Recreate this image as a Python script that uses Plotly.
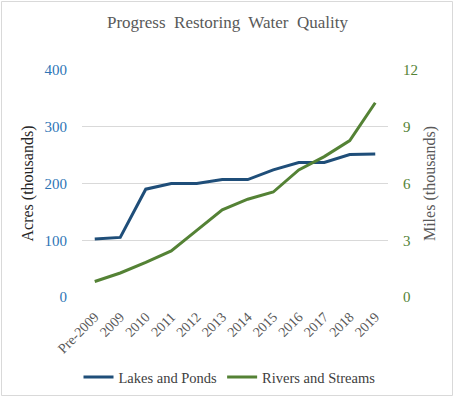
import plotly.graph_objects as go

categories = ["Pre-2009", "2009", "2010", "2011", "2012", "2013", "2014", "2015", "2016", "2017", "2018", "2019"]
lakes_acres = [102, 105, 190, 200, 200, 207, 207, 224, 237, 237, 251, 252]
rivers_miles = [0.82, 1.27, 1.83, 2.44, 3.52, 4.61, 5.17, 5.55, 6.72, 7.42, 8.27, 10.27]
left_ticks = [0, 100, 200, 300, 400]
right_ticks = [0, 3, 6, 9, 12]

W, H = 455, 398
ML, MR, MT, MB = 82, 67, 70, 101
FONT = "Liberation Serif"

fig = go.Figure()
fig.add_trace(go.Scatter(x=categories, y=lakes_acres, name="Lakes and Ponds", mode="lines",
                         line=dict(color="#1F4E79", width=3), yaxis="y"))
fig.add_trace(go.Scatter(x=categories, y=rivers_miles, name="Rivers and Streams", mode="lines",
                         line=dict(color="#548235", width=3), yaxis="y2"))

pw = W - ML - MR
ph = H - MT - MB
fig.add_shape(type="rect", xref="paper", yref="paper",
              x0=(1.5 - ML) / pw, x1=1 + (MR - 2.5) / pw,
              y0=-(MB - 2.5) / ph, y1=1 + (MT - 1.5) / ph,
              line=dict(color="#D9D9D9", width=1), layer="below")

fig.update_layout(
    width=W, height=H,
    margin=dict(l=ML, r=MR, t=MT, b=MB, autoexpand=False),
    paper_bgcolor="white", plot_bgcolor="white",
    font=dict(family=FONT, color="#595959"),
    title=dict(text="Progress&nbsp; Restoring&nbsp; Water&nbsp; Quality", x=0.5, xanchor="center",
               y=1 - 22 / H, yanchor="middle", font=dict(size=17, color="#595959", family=FONT)),
    xaxis=dict(type="category", showgrid=False, showline=False, zeroline=False, ticks="", automargin=False,
               tickangle=-45, ticklabelstandoff=8, tickfont=dict(size=14, color="#595959", family=FONT),
               range=[-0.5, len(categories) - 0.5]),
    yaxis=dict(range=[0, 400], tickvals=left_ticks, showgrid=True, gridcolor="#D9D9D9", gridwidth=1,
               zeroline=False, showline=False, ticks="", ticklabelstandoff=14, automargin=False,
               tickfont=dict(size=15, color="#2E75B6", family=FONT),
               title=dict(text="Acres (thousands)", font=dict(size=16, color="#262626", family=FONT), standoff=6)),
    yaxis2=dict(range=[0, 12], tickvals=right_ticks, overlaying="y", side="right", showgrid=False,
                zeroline=False, showline=False, ticks="", ticklabelstandoff=14, automargin=False,
                tickfont=dict(size=15, color="#548235", family=FONT),
                title=dict(text="Miles (thousands)", font=dict(size=16, color="#595959", family=FONT), standoff=6)),
    legend=dict(orientation="h", x=(229.5 - ML) / pw, xanchor="center", y=-(377 - MT - ph) / ph, yanchor="middle",
                font=dict(size=14.5, color="#404040", family=FONT), itemwidth=30, tracegroupgap=0),
    showlegend=True,
)

fig.write_html("out.html", config={"displayModeBar": False})
with open("out.html", "r", encoding="utf-8") as f:
    html = f.read()
html = html.replace("<head>", "<head><style>html,body{margin:0;padding:0;overflow:hidden;}</style>", 1)
with open("out.html", "w", encoding="utf-8") as f:
    f.write(html)
